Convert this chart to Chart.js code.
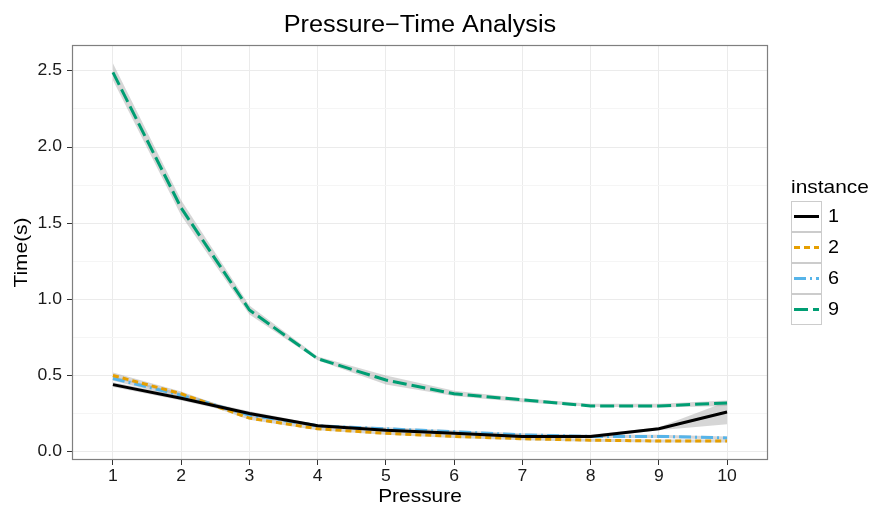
<!DOCTYPE html>
<html>
<head>
<meta charset="utf-8">
<script src="https://cdn.jsdelivr.net/npm/chart.js@4"></script>
<style>
  body { margin: 0; background: #fff; }
  #wrap { width: 874px; height: 508px; }
</style>
</head>
<body>
<div id="wrap"><canvas id="myChart" width="874" height="508"></canvas></div>
<script>
"use strict";

// pressure levels on the x axis
const pressure = [1, 2, 3, 4, 5, 6, 7, 8, 9, 10]
const yTicks   = [0, 0.5, 1.0, 1.5, 2.0, 2.5]

// mean time per instance
const time1 = [0.44, 0.35, 0.25, 0.17, 0.14, 0.12, 0.10, 0.10, 0.15, 0.26]
const time2 = [0.50, 0.38, 0.22, 0.15, 0.12, 0.10, 0.085, 0.075, 0.07, 0.07]
const time6 = [0.48, 0.37, 0.24, 0.17, 0.15, 0.13, 0.11, 0.10, 0.10, 0.09]
const time9 = [2.49, 1.60, 0.93, 0.61, 0.47, 0.38, 0.34, 0.30, 0.30, 0.32]

// confidence ribbons
const low1  = [0.425, 0.335, 0.235, 0.16, 0.13, 0.11, 0.09, 0.09, 0.14, 0.18]
const high1 = [0.455, 0.365, 0.265, 0.18, 0.15, 0.13, 0.11, 0.11, 0.16, 0.33]
const low2  = [0.485, 0.365, 0.21, 0.14, 0.11, 0.09, 0.075, 0.065, 0.06, 0.06]
const high2 = [0.52, 0.395, 0.235, 0.16, 0.13, 0.11, 0.095, 0.085, 0.08, 0.08]
const low6  = [0.465, 0.355, 0.23, 0.16, 0.14, 0.12, 0.10, 0.09, 0.09, 0.08]
const high6 = [0.495, 0.385, 0.25, 0.18, 0.16, 0.14, 0.12, 0.11, 0.11, 0.10]
const low9  = [2.44, 1.55, 0.90, 0.60, 0.44, 0.365, 0.325, 0.295, 0.29, 0.30]
const high9 = [2.55, 1.65, 0.96, 0.625, 0.50, 0.40, 0.35, 0.315, 0.315, 0.335]

const instances = ["1", "2", "6", "9"]
const colors    = ["#000000", "#E69F00", "#56B4E9", "#009E73"]
const dashes    = [[], [6, 4], [12, 4, 2, 4], [14, 5]]
const means     = [time1, time2, time6, time9]
const lows      = [low1, low2, low6, low9]
const highs     = [high1, high2, high6, high9]

const FONT    = "'Liberation Sans', Arial, sans-serif"
const STRETCH = 1.1
const AREA    = { left: 72, right: 768, top: 45, bottom: 460 }

function pts(values) {
    return pressure.map((p, i) => ({ x: p, y: values[i] }))
}

// text is drawn a bit wider than the stock font
function wideText(ctx, text, x, y, size, align, color) {
    ctx.save()
    ctx.font = size + 'px ' + FONT
    ctx.fillStyle = color || '#000'
    ctx.textAlign = align
    ctx.textBaseline = 'middle'
    ctx.translate(x, y)
    ctx.scale(STRETCH, 1)
    ctx.fillText(text, 0, 0)
    ctx.restore()
}

let datasets = []
for (let i = 0; i < instances.length; i++) {
    datasets.push({
        data: pts(lows[i]), borderWidth: 0, pointRadius: 0,
        fill: false, order: 10
    })
    datasets.push({
        data: pts(highs[i]), borderWidth: 0, pointRadius: 0,
        fill: '-1', backgroundColor: 'rgba(153,153,153,0.4)', order: 10
    })
}
for (let i = 0; i < instances.length; i++) {
    datasets.push({
        label: instances[i],
        data: pts(means[i]),
        borderColor: colors[i],
        borderDash: dashes[i],
        borderWidth: 3,
        pointRadius: 0,
        fill: false,
        tension: 0,
        order: 1
    })
}

// titles, tick labels, panel border and legend
const decorations = {
    id: 'decorations',
    afterDatasetsDraw(chart) {
        const ctx = chart.ctx
        const a = chart.chartArea
        ctx.save()
        ctx.strokeStyle = '#7F7F7F'
        ctx.lineWidth = 1.2
        ctx.strokeRect(a.left + 0.5, a.top + 0.5, a.right - a.left - 1, a.bottom - a.top - 1)
        ctx.restore()
    },
    afterDraw(chart) {
        const ctx = chart.ctx
        const a = chart.chartArea
        const xs = chart.scales.x
        const ys = chart.scales.y
        const mid = (a.left + a.right) / 2

        wideText(ctx, 'Pressure\u2212Time Analysis', mid, 26, 23, 'center')
        wideText(ctx, 'Pressure', mid, 497, 19, 'center')
        ctx.save()
        ctx.translate(22, (a.top + a.bottom) / 2)
        ctx.rotate(-Math.PI / 2)
        wideText(ctx, 'Time(s)', 0, 0, 19, 'center')
        ctx.restore()

        pressure.forEach(p => wideText(ctx, String(p), xs.getPixelForValue(p), 477, 16, 'center', '#1A1A1A'))
        yTicks.forEach(v => wideText(ctx, v.toFixed(1), 62, ys.getPixelForValue(v), 16, 'right', '#1A1A1A'))

        // legend
        wideText(ctx, 'instance', 791, 188, 19, 'left')
        for (let i = 0; i < instances.length; i++) {
            const top = 201 + i * 31
            ctx.save()
            ctx.fillStyle = '#fff'
            ctx.fillRect(791, top, 31, 31)
            ctx.strokeStyle = '#CCCCCC'
            ctx.lineWidth = 1
            ctx.strokeRect(791.5, top + 0.5, 30, 30)
            ctx.strokeStyle = colors[i]
            ctx.lineWidth = 3
            ctx.setLineDash(dashes[i])
            ctx.beginPath()
            ctx.moveTo(794, top + 15.5)
            ctx.lineTo(819, top + 15.5)
            ctx.stroke()
            ctx.restore()
            wideText(ctx, instances[i], 828, top + 16, 18, 'left')
        }
    }
}

const isMajorY = v => yTicks.some(t => Math.abs(t - v) < 1e-9)

new Chart(document.getElementById('myChart').getContext('2d'), {
    type: 'line',
    data: { datasets: datasets },
    options: {
        responsive: false,
        animation: false,
        events: [],
        layout: { padding: { left: 0, top: AREA.top, right: 874 - AREA.right, bottom: 0 } },
        plugins: { legend: { display: false }, tooltip: { enabled: false }, filler: { propagate: false } },
        scales: {
            x: {
                type: 'linear',
                min: 0.4, max: 10.6,
                afterBuildTicks: s => { s.ticks = pressure.map(v => ({ value: v })) },
                afterFit: s => { s.height = 508 - AREA.bottom },
                border: { display: false },
                grid: { color: '#EBEBEB', lineWidth: 1, tickLength: 5, tickColor: '#333333' },
                ticks: { display: false }
            },
            y: {
                min: -0.055, max: 2.67,
                afterBuildTicks: s => {
                    let t = []
                    for (let v = 0; v <= 2.5001; v += 0.25) t.push({ value: Math.round(v * 100) / 100 })
                    s.ticks = t
                },
                afterFit: s => { s.width = AREA.left },
                border: { display: false },
                grid: {
                    color: c => isMajorY(c.tick.value) ? '#EBEBEB' : '#F5F5F5',
                    lineWidth: 1, tickLength: 5,
                    tickColor: c => isMajorY(c.tick.value) ? '#333333' : 'rgba(0,0,0,0)'
                },
                ticks: { display: false }
            }
        }
    },
    plugins: [decorations]
});
</script>
</body>
</html>
